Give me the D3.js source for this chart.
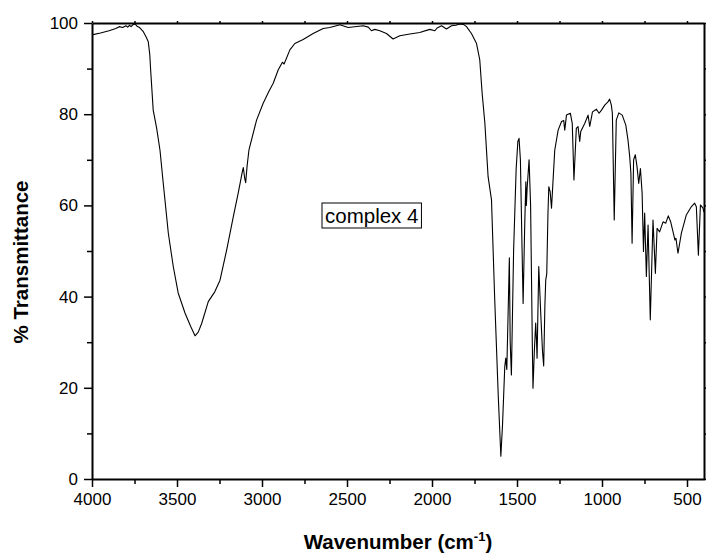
<!DOCTYPE html>
<html>
<head>
<meta charset="utf-8">
<script src="https://cdn.jsdelivr.net/npm/d3@7"></script>
<style>
  body { margin: 0; background: #fff; }
  svg text { font-family: "Liberation Sans", Arial, sans-serif; }
</style>
</head>
<body>
<script>
// IR spectrum, complex 4
const wavenumber = [4000, 3950, 3900, 3860, 3840, 3820, 3800, 3790, 3780, 3770, 3760, 3747, 3735, 3720, 3698, 3680, 3669, 3660, 3655, 3647, 3640, 3620, 3600, 3581, 3551, 3522, 3493, 3453, 3420, 3394, 3375, 3355, 3316, 3277, 3247, 3208, 3169, 3140, 3115, 3110, 3102, 3096, 3088, 3077, 3032, 2993, 2960, 2934, 2905, 2880, 2870, 2836, 2807, 2758, 2699, 2640, 2601, 2542, 2493, 2405, 2375, 2356, 2336, 2307, 2268, 2229, 2189, 2130, 2072, 2013, 1983, 1970, 1944, 1915, 1885, 1860, 1836, 1815, 1797, 1768, 1738, 1719, 1705, 1689, 1670, 1650, 1631, 1610, 1595, 1585, 1572, 1566, 1560, 1550, 1545, 1540, 1533, 1520, 1505, 1495, 1488, 1480, 1470, 1464, 1455, 1448, 1445, 1440, 1429, 1420, 1410, 1406, 1398, 1390, 1385, 1382, 1372, 1360, 1350, 1343, 1336, 1331, 1325, 1318, 1313, 1305, 1297, 1278, 1258, 1238, 1225, 1219, 1209, 1186, 1175, 1165, 1151, 1141, 1131, 1125, 1101, 1082, 1072, 1056, 1033, 1017, 1003, 984, 965, 955, 945, 939, 928, 916, 901, 881, 860, 847, 837, 830, 823, 814, 804, 794, 784, 774, 764, 756, 749, 739, 729, 716, 700, 686, 676, 661, 641, 625, 610, 596, 582, 571, 565, 553, 533, 504, 475, 455, 445, 433, 421, 406, 400];
const transmittance = [97.4, 97.8, 98.3, 98.8, 99.2, 99.0, 99.4, 99.1, 99.5, 99.2, 99.6, 99.8, 99.3, 99.0, 98.1, 96.8, 95.9, 93.0, 89.7, 85.0, 80.9, 77.0, 72.1, 64.9, 53.9, 46.6, 40.8, 36.4, 33.5, 31.4, 32.2, 34.1, 38.9, 41.1, 43.6, 50.2, 57.5, 62.7, 67.5, 68.3, 66.0, 65.0, 68.5, 72.1, 78.7, 82.4, 85.0, 86.8, 89.7, 91.4, 91.0, 94.1, 95.5, 96.4, 97.7, 98.8, 99.0, 99.6, 99.0, 99.4, 99.1, 98.3, 98.6, 98.3, 97.7, 96.5, 97.2, 97.6, 97.9, 98.6, 98.3, 98.9, 99.4, 98.7, 99.4, 99.5, 99.8, 99.7, 99.2, 97.7, 95.5, 91.9, 84.6, 78.0, 66.3, 61.2, 39.3, 18.0, 5.0, 12.0, 24.6, 26.5, 24.0, 40.0, 48.5, 30.0, 22.8, 50.0, 68.0, 74.0, 74.7, 70.0, 50.0, 38.5, 55.0, 65.2, 60.0, 64.0, 70.0, 60.0, 30.0, 19.9, 28.0, 34.2, 30.0, 26.5, 46.6, 36.0, 28.0, 24.8, 38.0, 43.6, 45.0, 58.0, 64.1, 63.0, 59.4, 72.1, 76.5, 78.4, 78.6, 76.5, 79.8, 80.2, 78.0, 65.6, 76.9, 77.3, 74.0, 76.2, 78.0, 79.8, 77.3, 80.5, 81.1, 80.2, 80.9, 82.0, 82.7, 83.3, 82.0, 80.2, 56.8, 78.7, 80.3, 79.8, 77.6, 74.3, 70.7, 67.0, 51.7, 70.0, 71.1, 68.5, 64.8, 68.1, 62.7, 49.9, 58.3, 44.4, 55.7, 34.9, 56.8, 45.1, 55.0, 54.2, 56.4, 56.1, 57.7, 56.4, 54.2, 52.4, 52.8, 49.5, 53.9, 57.9, 59.7, 60.5, 59.7, 49.1, 60.1, 59.4, 58.5];

const xMajor = [4000, 3500, 3000, 2500, 2000, 1500, 1000, 500];
const xMinor = [3750, 3250, 2750, 2250, 1750, 1250, 750];
const yMajor = [0, 20, 40, 60, 80, 100];
const yMinor = [10, 30, 50, 70, 90];
const sampleLabel = "complex 4";

const W = 709, H = 560;
const margin = { top: 23, right: 5, bottom: 81, left: 92 };

const svg = d3.select("body").append("svg")
  .attr("width", W)
  .attr("height", H);

const x = d3.scaleLinear()
  .domain([4000, 400])
  .range([margin.left, W - margin.right]);

const y = d3.scaleLinear()
  .domain([0, 100])
  .range([H - margin.bottom, margin.top]);

const data = wavenumber.map((w, i) => ({ w: w, t: transmittance[i] }));

// spectrum
svg.append("path")
  .datum(data)
  .attr("fill", "none")
  .attr("stroke", "#000")
  .attr("stroke-width", 1.1)
  .attr("stroke-linejoin", "round")
  .attr("d", d3.line().x(d => x(d.w)).y(d => y(d.t)));

const fmt = d3.format("d");

// bottom axis
svg.append("g")
  .attr("transform", `translate(0,${y(0)})`)
  .call(d3.axisBottom(x).tickValues(xMajor).tickFormat(fmt).tickSize(8).tickSizeOuter(0).tickPadding(6));
svg.append("g")
  .attr("transform", `translate(0,${y(0)})`)
  .call(d3.axisBottom(x).tickValues(xMinor).tickSize(5).tickFormat("").tickSizeOuter(0))
  .select(".domain").remove();

// left axis
svg.append("g")
  .attr("transform", `translate(${x(4000)},0)`)
  .call(d3.axisLeft(y).tickValues(yMajor).tickFormat(fmt).tickSize(8).tickSizeOuter(0).tickPadding(6));
svg.append("g")
  .attr("transform", `translate(${x(4000)},0)`)
  .call(d3.axisLeft(y).tickValues(yMinor).tickSize(5).tickFormat("").tickSizeOuter(0))
  .select(".domain").remove();

// top and right frame with small outside ticks
svg.append("g")
  .attr("transform", `translate(0,${y(100)})`)
  .call(d3.axisTop(x).tickValues(xMajor.concat(xMinor)).tickSize(2).tickFormat("").tickSizeOuter(0));
svg.append("g")
  .attr("transform", `translate(${x(400)},0)`)
  .call(d3.axisRight(y).tickValues(yMajor.concat(yMinor)).tickSize(2).tickFormat("").tickSizeOuter(0));

svg.selectAll(".domain").attr("stroke-width", 2);
svg.selectAll(".tick line").attr("stroke-width", 1.5);
svg.selectAll(".tick text")
  .attr("font-size", 17)
  .attr("fill", "#000")
  .style("font-family", "'Liberation Sans', Arial, sans-serif");

// axis titles
const xt = svg.append("text")
  .attr("x", (x(4000) + x(400)) / 2)
  .attr("y", 549)
  .attr("text-anchor", "middle")
  .attr("font-size", 20.5)
  .attr("font-weight", "bold")
  .text("Wavenumber (cm");
xt.append("tspan").attr("font-size", 13).attr("dy", -8).text("-1");
xt.append("tspan").attr("dy", 8).text(")");

svg.append("text")
  .attr("transform", `translate(28,262) rotate(-90)`)
  .attr("text-anchor", "middle")
  .attr("font-size", 20.5)
  .attr("font-weight", "bold")
  .text("% Transmittance");

// sample label in box
const box = svg.append("rect");
const lbl = svg.append("text")
  .attr("x", 325)
  .attr("y", 223)
  .attr("font-size", 20.5)
  .text(sampleLabel);
const bb = lbl.node().getBBox();
box
  .attr("x", bb.x - 3)
  .attr("y", bb.y - 1)
  .attr("width", bb.width + 6)
  .attr("height", bb.height + 2)
  .attr("fill", "#fff")
  .attr("stroke", "#000")
  .attr("stroke-width", 1);
</script>
</body>
</html>
